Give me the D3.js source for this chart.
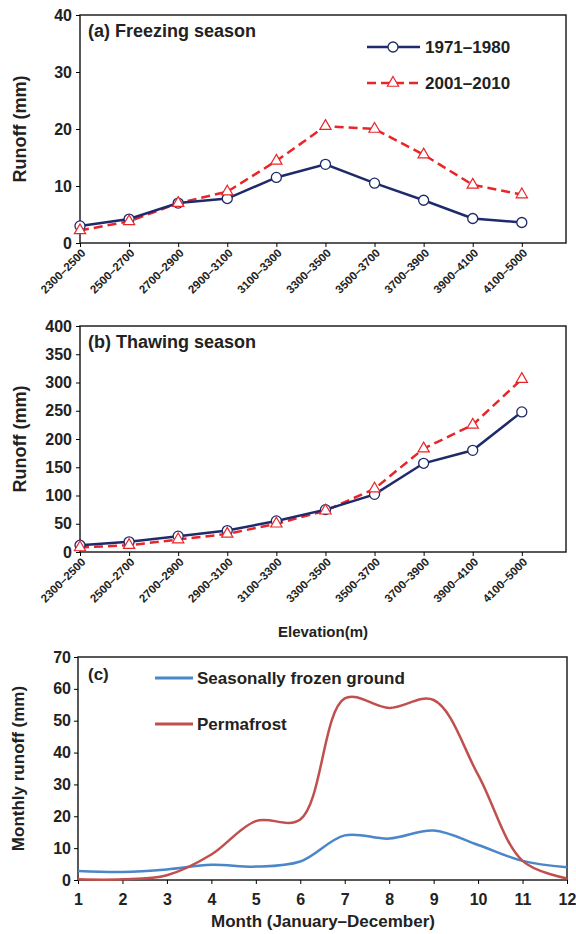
<!DOCTYPE html>
<html><head><meta charset="utf-8">
<script src="https://cdn.jsdelivr.net/npm/d3@7"></script>
<style>body{margin:0;background:#fff}text{font-family:"Liberation Sans",Arial,sans-serif;font-weight:bold;fill:#222}</style>
</head><body><svg width="576" height="934"></svg>
<script>
var elev = ["2300–2500","2500–2700","2700–2900","2900–3100","3100–3300","3300–3500","3500–3700","3700–3900","3900–4100","4100–5000"];
var freeze7180 = [3, 4.2, 7, 7.8, 11.5, 13.8, 10.5, 7.5, 4.3, 3.6];
var freeze0110 = [2.2, 3.8, 7, 9, 14.4, 20.5, 20, 15.5, 10.2, 8.5];
var thaw7180 = [12, 18, 28, 38, 55, 75, 102, 157, 180, 248];
var thaw0110 = [8, 12, 22, 32, 50, 73, 112, 183, 225, 306];
var months = [1,2,3,4,5,6,7,8,9,10,11,12];
var seasonal = [2.8, 2.5, 3.3, 4.8, 4.2, 5.8, 14, 13, 15.5, 11, 6, 4];
var permafrost = [0.2, 0.2, 1.5, 8, 18.5, 19, 57, 54, 56.5, 33, 6, 0.5];

var svg = d3.select("svg");
var L = 80, R = 566;
var xc = d3.scaleLinear().domain([0, 9.9]).range([L, R]);

function frame(top, bot) {
  svg.append("rect").attr("x", L).attr("y", top).attr("width", R - L).attr("height", bot - top)
    .attr("fill", "none").attr("stroke", "#222").attr("stroke-width", 1.5);
}
function yAxis(y, ticks, label, xlab) {
  svg.append("g").attr("transform", "translate(" + L + ",0)")
    .call(d3.axisLeft(y).tickValues(ticks).tickSize(4).tickSizeOuter(0))
    .call(function(g){ g.select(".domain").remove(); g.selectAll("text").style("font-size","16px").attr("dx","-1"); });
  var m = (y.range()[0] + y.range()[1]) / 2;
  svg.append("text").attr("transform", "translate(" + xlab + "," + m + ") rotate(-90)")
    .attr("text-anchor", "middle").style("font-size", "18px").text(label);
}
function catAxis(bot) {
  var g = svg.append("g").attr("transform", "translate(0," + bot + ")")
    .call(d3.axisBottom(xc).tickValues(d3.range(elev.length)).tickFormat(function(i){ return elev[i]; }).tickSize(4));
  g.select(".domain").remove();
  g.selectAll("text").style("font-size", "11.5px").attr("text-anchor", "end")
    .attr("transform", "rotate(-45)").attr("dx", "-0.3em").attr("dy", "0.4em");
}
function tri(sel, cx, cy) {
  sel.append("path").attr("d", d3.symbol(d3.symbolTriangle, 55)()).attr("transform", "translate(" + cx + "," + cy + ")")
    .attr("fill", "#fff").attr("stroke", "#e8262a").attr("stroke-width", 1.2);
}
function panel(top, bot, ymax, ticks, a, b, title) {
  var y = d3.scaleLinear().domain([0, ymax]).range([bot, top]);
  frame(top, bot);
  yAxis(y, ticks, "Runoff (mm)", 26);
  catAxis(bot);
  var line = d3.line().x(function(d, i){ return xc(i); }).y(function(d){ return y(d); });
  svg.append("path").datum(b).attr("d", line).attr("fill", "none").attr("stroke", "#e8262a")
    .attr("stroke-width", 2.5).attr("stroke-dasharray", "9,5");
  svg.append("path").datum(a).attr("d", line).attr("fill", "none").attr("stroke", "#1f2a6b").attr("stroke-width", 2.5);
  a.forEach(function(d, i){
    svg.append("circle").attr("cx", xc(i)).attr("cy", y(d)).attr("r", 5).attr("fill", "#fff").attr("stroke", "#1f2a6b").attr("stroke-width", 1.3);
  });
  b.forEach(function(d, i){ tri(svg, xc(i), y(d)); });
  svg.append("text").attr("x", 88).attr("y", top + 22).style("font-size", "18px").text(title);
  return y;
}

panel(15, 243, 40, [0,10,20,30,40], freeze7180, freeze0110, "(a) Freezing season");
panel(326, 552, 400, d3.range(0, 401, 50), thaw7180, thaw0110, "(b) Thawing season");
svg.append("text").attr("x", 323).attr("y", 637).attr("text-anchor", "middle").style("font-size", "15px").text("Elevation(m)");

// legend (a)
svg.append("line").attr("x1", 367).attr("x2", 420).attr("y1", 47).attr("y2", 47).attr("stroke", "#1f2a6b").attr("stroke-width", 2.5);
svg.append("circle").attr("cx", 393).attr("cy", 47).attr("r", 5).attr("fill", "#fff").attr("stroke", "#1f2a6b").attr("stroke-width", 1.3);
svg.append("text").attr("x", 425).attr("y", 53).style("font-size", "17px").text("1971–1980");
svg.append("line").attr("x1", 367).attr("x2", 420).attr("y1", 83).attr("y2", 83).attr("stroke", "#e8262a").attr("stroke-width", 2.5).attr("stroke-dasharray", "9,5");
tri(svg, 393, 83);
svg.append("text").attr("x", 425).attr("y", 89).style("font-size", "17px").text("2001–2010");

// panel (c)
var cTop = 657, cBot = 880, cL = 78, cR = 567;
var xm = d3.scaleLinear().domain([1, 12]).range([cL, cR]);
var ym = d3.scaleLinear().domain([0, 70]).range([cBot, cTop]);
svg.append("rect").attr("x", cL).attr("y", cTop).attr("width", cR - cL).attr("height", cBot - cTop)
  .attr("fill", "none").attr("stroke", "#222").attr("stroke-width", 1.5);
svg.append("g").attr("transform", "translate(" + cL + ",0)")
  .call(d3.axisLeft(ym).ticks(7).tickSize(4).tickSizeOuter(0))
  .call(function(g){ g.select(".domain").remove(); g.selectAll("text").style("font-size","16px"); });
svg.append("g").attr("transform", "translate(0," + cBot + ")")
  .call(d3.axisBottom(xm).ticks(12).tickSize(4).tickSizeOuter(0))
  .call(function(g){ g.select(".domain").remove(); g.selectAll("text").style("font-size","16px").attr("dy","1.1em"); });
svg.append("text").attr("transform", "translate(24," + ((cTop + cBot) / 2) + ") rotate(-90)")
  .attr("text-anchor", "middle").style("font-size", "17px").text("Monthly runoff  (mm)");
svg.append("text").attr("x", 323).attr("y", 927).attr("text-anchor", "middle").style("font-size", "17px").text("Month (January–December)");
var cl = d3.line().curve(d3.curveCatmullRom).x(function(d, i){ return xm(months[i]); }).y(function(d){ return ym(d); });
svg.append("path").datum(seasonal).attr("d", cl).attr("fill", "none").attr("stroke", "#4a86c8").attr("stroke-width", 2.5);
svg.append("path").datum(permafrost).attr("d", cl).attr("fill", "none").attr("stroke", "#c0504d").attr("stroke-width", 2.5);
svg.append("text").attr("x", 88).attr("y", 680).style("font-size", "17px").text("(c)");
svg.append("line").attr("x1", 155).attr("x2", 193).attr("y1", 678).attr("y2", 678).attr("stroke", "#4a86c8").attr("stroke-width", 3);
svg.append("text").attr("x", 197).attr("y", 684).style("font-size", "17px").text("Seasonally frozen ground");
svg.append("line").attr("x1", 155).attr("x2", 193).attr("y1", 724).attr("y2", 724).attr("stroke", "#c0504d").attr("stroke-width", 3);
svg.append("text").attr("x", 197).attr("y", 730).style("font-size", "17px").text("Permafrost");
</script></body></html>
